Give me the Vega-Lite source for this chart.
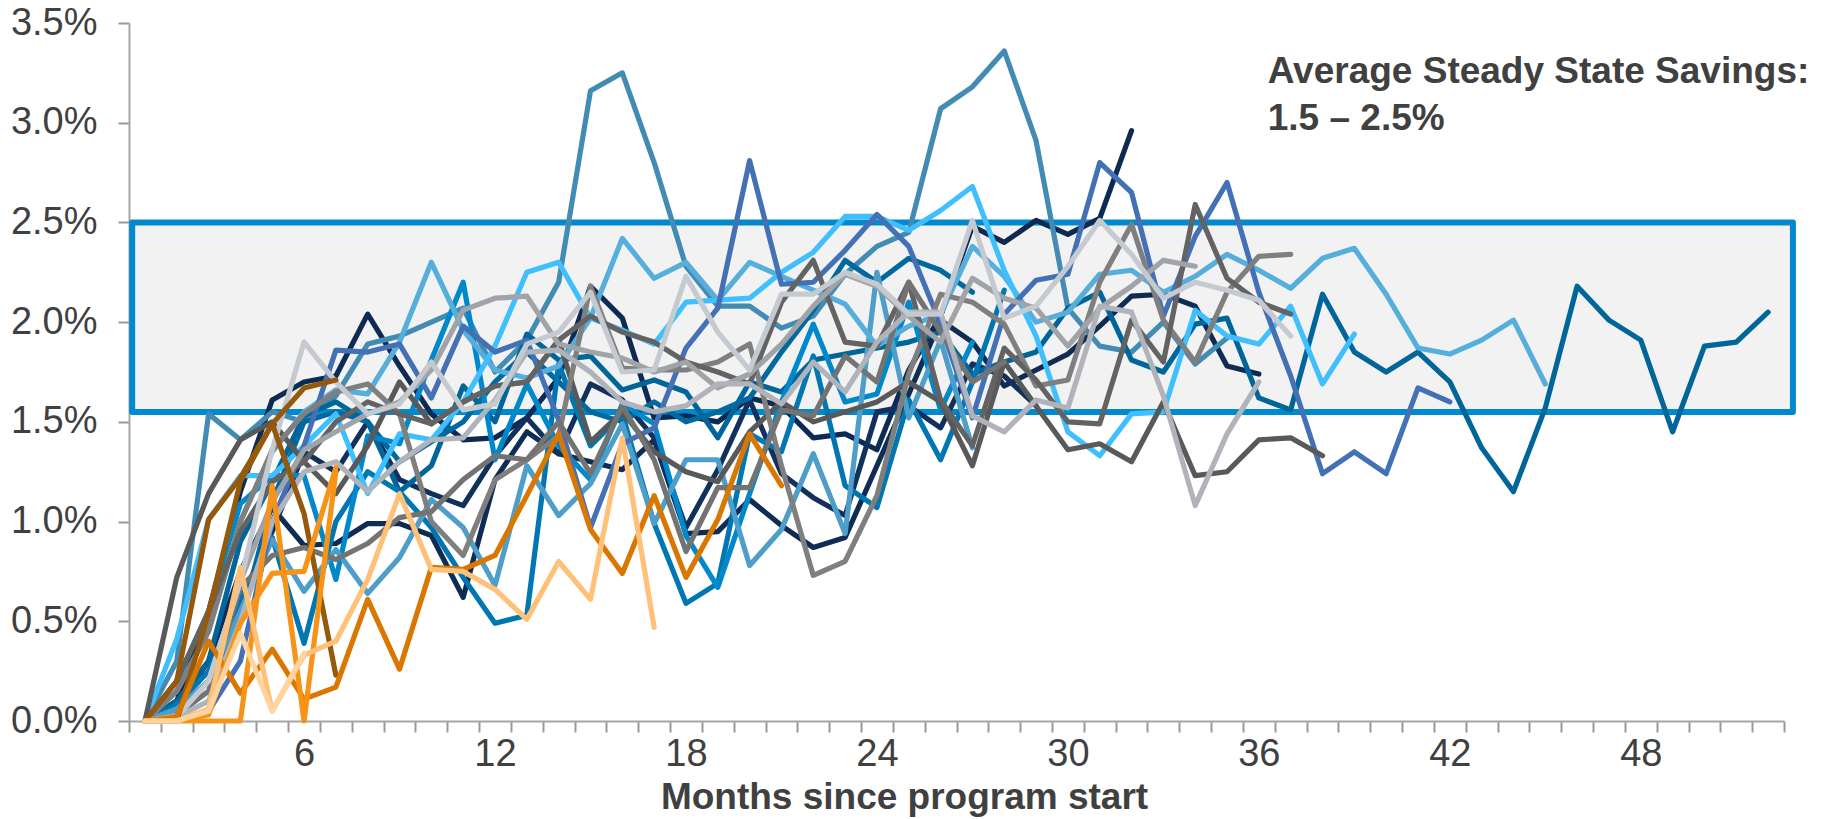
{"$schema":"https://vega.github.io/schema/vega-lite/v6.json","width":1655,"height":698,"autosize":{"type":"none"},"padding":{"left":129,"top":23,"right":44,"bottom":98},"background":"white","config":{"view":{"stroke":null},"font":"Liberation Sans"},"resolve":{"axis":{"x":"independent"}},"layer":[
{"data":{"values":[{"from":0.6,"to":52.78,"low":1.55,"high":2.5}]},"mark":{"type":"rect","fill":"#f2f2f2","stroke":"#0089cf","strokeWidth":6,"strokeJoin":"round","clip":false},
"encoding":{"x":{"field":"from","type":"quantitative","scale":{"domain":[0.5,52.5],"nice":false,"zero":false},"axis":{"orient":"bottom","values":[0.5,1.5,2.5,3.5,4.5,5.5,6.5,7.5,8.5,9.5,10.5,11.5,12.5,13.5,14.5,15.5,16.5,17.5,18.5,19.5,20.5,21.5,22.5,23.5,24.5,25.5,26.5,27.5,28.5,29.5,30.5,31.5,32.5,33.5,34.5,35.5,36.5,37.5,38.5,39.5,40.5,41.5,42.5,43.5,44.5,45.5,46.5,47.5,48.5,49.5,50.5,51.5,52.5],"labels":false,"title":null,"grid":false,"tickSize":11,"tickWidth":2,"tickColor":"#999999","domainColor":"#a6a6a6","domainWidth":2}},"x2":{"field":"to"},
"y":{"field":"low","type":"quantitative","scale":{"domain":[0,3.5],"nice":false},"axis":{"values":[0,0.5,1,1.5,2,2.5,3,3.5],"labelExpr":"format(datum.value,'.1f')+'%'","title":null,"grid":false,"tickSize":11,"tickWidth":2,"tickColor":"#999999","domainColor":"#a6a6a6","domainWidth":2,"labelFontSize":38,"labelColor":"#404040","labelPadding":21,"labelFont":"Liberation Sans"}},"y2":{"field":"high"}}},
{"data":{"values":[
{"id":"P01","m":1,"v":0},{"id":"P01","m":2,"v":0.1},{"id":"P01","m":3,"v":0.55},{"id":"P01","m":4,"v":1.15},{"id":"P01","m":5,"v":1.61},{"id":"P01","m":6,"v":1.7},{"id":"P01","m":7,"v":1.73},{"id":"P01","m":8,"v":2.04},{"id":"P01","m":9,"v":1.78},{"id":"P01","m":10,"v":1.54},{"id":"P01","m":11,"v":1.41},{"id":"P01","m":12,"v":1.42},{"id":"P01","m":13,"v":1.52},{"id":"P01","m":14,"v":1.72},{"id":"P01","m":15,"v":2.18},{"id":"P01","m":16,"v":2.02},{"id":"P01","m":17,"v":1.52},{"id":"P01","m":18,"v":1.53},{"id":"P01","m":19,"v":1.5},{"id":"P01","m":20,"v":1.62},{"id":"P01","m":21,"v":1.58},{"id":"P01","m":22,"v":1.42},{"id":"P01","m":23,"v":1.44},{"id":"P01","m":24,"v":1.36},{"id":"P01","m":25,"v":1.76},{"id":"P01","m":26,"v":2.03},{"id":"P01","m":27,"v":2.48},{"id":"P01","m":28,"v":2.4},{"id":"P01","m":29,"v":2.51},{"id":"P01","m":30,"v":2.44},{"id":"P01","m":31,"v":2.52},{"id":"P01","m":32,"v":2.96},
{"id":"P02","m":1,"v":0},{"id":"P02","m":2,"v":0.07},{"id":"P02","m":3,"v":0.3},{"id":"P02","m":4,"v":0.75},{"id":"P02","m":5,"v":1.07},{"id":"P02","m":6,"v":0.88},{"id":"P02","m":7,"v":0.89},{"id":"P02","m":8,"v":0.99},{"id":"P02","m":9,"v":0.99},{"id":"P02","m":10,"v":0.93},{"id":"P02","m":11,"v":0.62},{"id":"P02","m":12,"v":1.21},{"id":"P02","m":13,"v":1.45},{"id":"P02","m":14,"v":1.34},{"id":"P02","m":15,"v":1.3},{"id":"P02","m":16,"v":1.26},{"id":"P02","m":17,"v":1.41},{"id":"P02","m":18,"v":0.94},{"id":"P02","m":19,"v":0.95},{"id":"P02","m":20,"v":1.11},{"id":"P02","m":21,"v":0.98},{"id":"P02","m":22,"v":0.87},{"id":"P02","m":23,"v":0.92},{"id":"P02","m":24,"v":1.28},{"id":"P02","m":25,"v":1.64},{"id":"P02","m":26,"v":2.01},{"id":"P02","m":27,"v":1.9},{"id":"P02","m":28,"v":1.68},{"id":"P02","m":29,"v":1.76},{"id":"P02","m":30,"v":1.84},{"id":"P02","m":31,"v":1.98},{"id":"P02","m":32,"v":2.13},{"id":"P02","m":33,"v":2.14},{"id":"P02","m":34,"v":2.08},{"id":"P02","m":35,"v":1.78},{"id":"P02","m":36,"v":1.74},
{"id":"P03","m":1,"v":0},{"id":"P03","m":2,"v":0.05},{"id":"P03","m":3,"v":0.2},{"id":"P03","m":4,"v":0.6},{"id":"P03","m":5,"v":0.95},{"id":"P03","m":6,"v":1.35},{"id":"P03","m":7,"v":1.25},{"id":"P03","m":8,"v":1.5},{"id":"P03","m":9,"v":1.21},{"id":"P03","m":10,"v":1.14},{"id":"P03","m":11,"v":1.08},{"id":"P03","m":12,"v":1.33},{"id":"P03","m":13,"v":1.52},{"id":"P03","m":14,"v":1.34},{"id":"P03","m":15,"v":1.69},{"id":"P03","m":16,"v":1.61},{"id":"P03","m":17,"v":1.42},{"id":"P03","m":18,"v":0.97},{"id":"P03","m":19,"v":1.26},{"id":"P03","m":20,"v":1.61},{"id":"P03","m":21,"v":1.24},{"id":"P03","m":22,"v":1.12},{"id":"P03","m":23,"v":1.03},{"id":"P03","m":24,"v":1.55},{"id":"P03","m":25,"v":1.58},{"id":"P03","m":26,"v":1.47},{"id":"P03","m":27,"v":1.79},{"id":"P03","m":28,"v":1.73},{"id":"P03","m":29,"v":1.58},
{"id":"P04","m":1,"v":0},{"id":"P04","m":2,"v":0.3},{"id":"P04","m":3,"v":1.54},{"id":"P04","m":4,"v":1.41},{"id":"P04","m":5,"v":1.55},{"id":"P04","m":6,"v":1.5},{"id":"P04","m":7,"v":1.63},{"id":"P04","m":8,"v":1.89},{"id":"P04","m":9,"v":1.93},{"id":"P04","m":10,"v":2.0},{"id":"P04","m":11,"v":2.07},{"id":"P04","m":12,"v":1.75},{"id":"P04","m":13,"v":1.91},{"id":"P04","m":14,"v":2.2},{"id":"P04","m":15,"v":3.16},{"id":"P04","m":16,"v":3.25},{"id":"P04","m":17,"v":2.8},{"id":"P04","m":18,"v":2.28},{"id":"P04","m":19,"v":2.08},{"id":"P04","m":20,"v":2.08},{"id":"P04","m":21,"v":1.97},{"id":"P04","m":22,"v":2.03},{"id":"P04","m":23,"v":2.24},{"id":"P04","m":24,"v":2.38},{"id":"P04","m":25,"v":2.45},{"id":"P04","m":26,"v":3.07},{"id":"P04","m":27,"v":3.18},{"id":"P04","m":28,"v":3.36},{"id":"P04","m":29,"v":2.91},{"id":"P04","m":30,"v":2.07},{"id":"P04","m":31,"v":1.88},{"id":"P04","m":32,"v":1.85},{"id":"P04","m":33,"v":2.0},{"id":"P04","m":34,"v":1.79},{"id":"P04","m":35,"v":1.92},
{"id":"P05","m":1,"v":0},{"id":"P05","m":2,"v":0.1},{"id":"P05","m":3,"v":0.3},{"id":"P05","m":4,"v":0.9},{"id":"P05","m":5,"v":1.2},{"id":"P05","m":6,"v":1.53},{"id":"P05","m":7,"v":1.6},{"id":"P05","m":8,"v":1.5},{"id":"P05","m":9,"v":1.15},{"id":"P05","m":10,"v":1.28},{"id":"P05","m":11,"v":1.68},{"id":"P05","m":12,"v":1.5},{"id":"P05","m":13,"v":1.94},{"id":"P05","m":14,"v":1.81},{"id":"P05","m":15,"v":1.83},{"id":"P05","m":16,"v":1.66},{"id":"P05","m":17,"v":1.71},{"id":"P05","m":18,"v":1.65},{"id":"P05","m":19,"v":1.42},{"id":"P05","m":20,"v":1.7},{"id":"P05","m":21,"v":1.65},{"id":"P05","m":22,"v":1.81},{"id":"P05","m":23,"v":1.84},{"id":"P05","m":24,"v":1.87},{"id":"P05","m":25,"v":1.9},{"id":"P05","m":26,"v":1.95},{"id":"P05","m":27,"v":1.74},{"id":"P05","m":28,"v":1.8},{"id":"P05","m":29,"v":1.85},{"id":"P05","m":30,"v":2.07},{"id":"P05","m":31,"v":2.15},{"id":"P05","m":32,"v":1.81},{"id":"P05","m":33,"v":1.75},{"id":"P05","m":34,"v":1.99},{"id":"P05","m":35,"v":2.02},{"id":"P05","m":36,"v":1.62},{"id":"P05","m":37,"v":1.56},{"id":"P05","m":38,"v":2.14},{"id":"P05","m":39,"v":1.85},{"id":"P05","m":40,"v":1.75},{"id":"P05","m":41,"v":1.85},{"id":"P05","m":42,"v":1.7},{"id":"P05","m":43,"v":1.37},{"id":"P05","m":44,"v":1.15},{"id":"P05","m":45,"v":1.57},{"id":"P05","m":46,"v":2.18},{"id":"P05","m":47,"v":2.01},{"id":"P05","m":48,"v":1.91},{"id":"P05","m":49,"v":1.45},{"id":"P05","m":50,"v":1.88},{"id":"P05","m":51,"v":1.9},{"id":"P05","m":52,"v":2.05},
{"id":"P06","m":1,"v":0},{"id":"P06","m":2,"v":0.05},{"id":"P06","m":3,"v":0.2},{"id":"P06","m":4,"v":0.5},{"id":"P06","m":5,"v":1.1},{"id":"P06","m":6,"v":1.5},{"id":"P06","m":7,"v":1.55},{"id":"P06","m":8,"v":1.5},{"id":"P06","m":9,"v":1.3},{"id":"P06","m":10,"v":1.4},{"id":"P06","m":11,"v":1.5},{"id":"P06","m":12,"v":1.7},{"id":"P06","m":13,"v":1.85},{"id":"P06","m":14,"v":1.7},{"id":"P06","m":15,"v":1.55},{"id":"P06","m":16,"v":1.5},{"id":"P06","m":17,"v":1.6},{"id":"P06","m":18,"v":1.5},{"id":"P06","m":19,"v":1.55},{"id":"P06","m":20,"v":1.62},{"id":"P06","m":21,"v":1.85},{"id":"P06","m":22,"v":2.06},{"id":"P06","m":23,"v":2.31},{"id":"P06","m":24,"v":2.2},{"id":"P06","m":25,"v":2.32},{"id":"P06","m":26,"v":2.26},{"id":"P06","m":27,"v":2.15},
{"id":"P07","m":1,"v":0},{"id":"P07","m":2,"v":0.08},{"id":"P07","m":3,"v":0.25},{"id":"P07","m":4,"v":0.6},{"id":"P07","m":5,"v":0.92},{"id":"P07","m":6,"v":0.39},{"id":"P07","m":7,"v":1.0},{"id":"P07","m":8,"v":1.25},{"id":"P07","m":9,"v":1.15},{"id":"P07","m":10,"v":0.97},{"id":"P07","m":11,"v":0.72},{"id":"P07","m":12,"v":0.49},{"id":"P07","m":13,"v":0.53},{"id":"P07","m":14,"v":1.79},{"id":"P07","m":15,"v":1.38},{"id":"P07","m":16,"v":1.54},{"id":"P07","m":17,"v":0.99},{"id":"P07","m":18,"v":0.59},{"id":"P07","m":19,"v":0.69},{"id":"P07","m":20,"v":1.44},{"id":"P07","m":21,"v":1.35},{"id":"P07","m":22,"v":1.83},{"id":"P07","m":23,"v":1.18},{"id":"P07","m":24,"v":1.07},{"id":"P07","m":25,"v":1.61},{"id":"P07","m":26,"v":1.31},{"id":"P07","m":27,"v":1.7},{"id":"P07","m":28,"v":2.16},
{"id":"P08","m":1,"v":0},{"id":"P08","m":2,"v":0.2},{"id":"P08","m":3,"v":0.55},{"id":"P08","m":4,"v":1.09},{"id":"P08","m":5,"v":1.23},{"id":"P08","m":6,"v":1.23},{"id":"P08","m":7,"v":0.71},{"id":"P08","m":8,"v":1.43},{"id":"P08","m":9,"v":1.39},{"id":"P08","m":10,"v":1.81},{"id":"P08","m":11,"v":2.2},{"id":"P08","m":12,"v":1.31},{"id":"P08","m":13,"v":1.69},{"id":"P08","m":14,"v":1.38},{"id":"P08","m":15,"v":1.21},{"id":"P08","m":16,"v":1.59},{"id":"P08","m":17,"v":1.49},{"id":"P08","m":18,"v":0.93},{"id":"P08","m":19,"v":0.67},{"id":"P08","m":20,"v":1.14},{"id":"P08","m":21,"v":1.6},{"id":"P08","m":22,"v":1.99},{"id":"P08","m":23,"v":1.6},{"id":"P08","m":24,"v":1.64},{"id":"P08","m":25,"v":2.1},{"id":"P08","m":26,"v":1.56},{"id":"P08","m":27,"v":1.9},
{"id":"P09","m":1,"v":0},{"id":"P09","m":2,"v":0.06},{"id":"P09","m":3,"v":0.2},{"id":"P09","m":4,"v":0.55},{"id":"P09","m":5,"v":0.91},{"id":"P09","m":6,"v":0.65},{"id":"P09","m":7,"v":0.86},{"id":"P09","m":8,"v":0.64},{"id":"P09","m":9,"v":0.82},{"id":"P09","m":10,"v":1.11},{"id":"P09","m":11,"v":0.97},{"id":"P09","m":12,"v":0.68},{"id":"P09","m":13,"v":1.28},{"id":"P09","m":14,"v":1.03},{"id":"P09","m":15,"v":1.19},{"id":"P09","m":16,"v":1.49},{"id":"P09","m":17,"v":0.99},{"id":"P09","m":18,"v":1.31},{"id":"P09","m":19,"v":1.31},{"id":"P09","m":20,"v":0.78},{"id":"P09","m":21,"v":0.96},{"id":"P09","m":22,"v":1.34},{"id":"P09","m":23,"v":0.94},{"id":"P09","m":24,"v":2.25},{"id":"P09","m":25,"v":1.52},{"id":"P09","m":26,"v":1.91},{"id":"P09","m":27,"v":1.37},
{"id":"P10","m":1,"v":0},{"id":"P10","m":2,"v":0.15},{"id":"P10","m":3,"v":0.45},{"id":"P10","m":4,"v":1.0},{"id":"P10","m":5,"v":1.35},{"id":"P10","m":6,"v":1.55},{"id":"P10","m":7,"v":1.66},{"id":"P10","m":8,"v":1.64},{"id":"P10","m":9,"v":1.9},{"id":"P10","m":10,"v":2.3},{"id":"P10","m":11,"v":1.96},{"id":"P10","m":12,"v":1.76},{"id":"P10","m":13,"v":1.72},{"id":"P10","m":14,"v":1.78},{"id":"P10","m":15,"v":2.02},{"id":"P10","m":16,"v":2.42},{"id":"P10","m":17,"v":2.22},{"id":"P10","m":18,"v":2.3},{"id":"P10","m":19,"v":2.11},{"id":"P10","m":20,"v":2.3},{"id":"P10","m":21,"v":2.23},{"id":"P10","m":22,"v":2.16},{"id":"P10","m":23,"v":2.09},{"id":"P10","m":24,"v":1.88},{"id":"P10","m":25,"v":1.98},{"id":"P10","m":26,"v":2.04},{"id":"P10","m":27,"v":2.38},{"id":"P10","m":28,"v":2.23},{"id":"P10","m":29,"v":2.0},{"id":"P10","m":30,"v":2.05},{"id":"P10","m":31,"v":2.24},{"id":"P10","m":32,"v":2.26},{"id":"P10","m":33,"v":2.15},{"id":"P10","m":34,"v":2.23},{"id":"P10","m":35,"v":2.34},{"id":"P10","m":36,"v":2.26},{"id":"P10","m":37,"v":2.17},{"id":"P10","m":38,"v":2.32},{"id":"P10","m":39,"v":2.37},{"id":"P10","m":40,"v":2.14},{"id":"P10","m":41,"v":1.87},{"id":"P10","m":42,"v":1.84},{"id":"P10","m":43,"v":1.91},{"id":"P10","m":44,"v":2.01},{"id":"P10","m":45,"v":1.69},
{"id":"P11","m":1,"v":0},{"id":"P11","m":2,"v":0.41},{"id":"P11","m":3,"v":1.01},{"id":"P11","m":4,"v":1.23},{"id":"P11","m":5,"v":1.23},{"id":"P11","m":6,"v":1.38},{"id":"P11","m":7,"v":1.54},{"id":"P11","m":8,"v":1.14},{"id":"P11","m":9,"v":1.44},{"id":"P11","m":10,"v":1.41},{"id":"P11","m":11,"v":1.6},{"id":"P11","m":12,"v":1.88},{"id":"P11","m":13,"v":2.25},{"id":"P11","m":14,"v":2.3},{"id":"P11","m":15,"v":2.02},{"id":"P11","m":16,"v":1.96},{"id":"P11","m":17,"v":1.89},{"id":"P11","m":18,"v":2.1},{"id":"P11","m":19,"v":2.11},{"id":"P11","m":20,"v":2.12},{"id":"P11","m":21,"v":2.25},{"id":"P11","m":22,"v":2.35},{"id":"P11","m":23,"v":2.53},{"id":"P11","m":24,"v":2.53},{"id":"P11","m":25,"v":2.46},{"id":"P11","m":26,"v":2.56},{"id":"P11","m":27,"v":2.68},{"id":"P11","m":28,"v":2.26},{"id":"P11","m":29,"v":1.93},{"id":"P11","m":30,"v":1.45},{"id":"P11","m":31,"v":1.33},{"id":"P11","m":32,"v":1.54},{"id":"P11","m":33,"v":1.55},{"id":"P11","m":34,"v":2.06},{"id":"P11","m":35,"v":1.93},{"id":"P11","m":36,"v":1.89},{"id":"P11","m":37,"v":2.08},{"id":"P11","m":38,"v":1.69},{"id":"P11","m":39,"v":1.94},
{"id":"P12","m":1,"v":0},{"id":"P12","m":2,"v":0},{"id":"P12","m":3,"v":0.05},{"id":"P12","m":4,"v":0.3},{"id":"P12","m":5,"v":1.0},{"id":"P12","m":6,"v":1.38},{"id":"P12","m":7,"v":1.86},{"id":"P12","m":8,"v":1.85},{"id":"P12","m":9,"v":1.89},{"id":"P12","m":10,"v":1.62},{"id":"P12","m":11,"v":1.98},{"id":"P12","m":12,"v":1.85},{"id":"P12","m":13,"v":1.91},{"id":"P12","m":14,"v":1.51},{"id":"P12","m":15,"v":0.97},{"id":"P12","m":16,"v":1.39},{"id":"P12","m":17,"v":1.47},{"id":"P12","m":18,"v":1.87},{"id":"P12","m":19,"v":2.07},{"id":"P12","m":20,"v":2.81},{"id":"P12","m":21,"v":2.19},{"id":"P12","m":22,"v":2.2},{"id":"P12","m":23,"v":2.36},{"id":"P12","m":24,"v":2.54},{"id":"P12","m":25,"v":2.38},{"id":"P12","m":26,"v":1.99},{"id":"P12","m":27,"v":1.52},{"id":"P12","m":28,"v":2.04},{"id":"P12","m":29,"v":2.21},{"id":"P12","m":30,"v":2.24},{"id":"P12","m":31,"v":2.8},{"id":"P12","m":32,"v":2.65},{"id":"P12","m":33,"v":2.03},{"id":"P12","m":34,"v":2.43},{"id":"P12","m":35,"v":2.7},{"id":"P12","m":36,"v":2.15},{"id":"P12","m":37,"v":1.73},{"id":"P12","m":38,"v":1.24},{"id":"P12","m":39,"v":1.35},{"id":"P12","m":40,"v":1.24},{"id":"P12","m":41,"v":1.67},{"id":"P12","m":42,"v":1.6},
{"id":"P13","m":1,"v":0},{"id":"P13","m":2,"v":0.72},{"id":"P13","m":3,"v":1.14},{"id":"P13","m":4,"v":1.41},{"id":"P13","m":5,"v":1.5},{"id":"P13","m":6,"v":1.3},{"id":"P13","m":7,"v":1.14},{"id":"P13","m":8,"v":1.38},{"id":"P13","m":9,"v":1.7},{"id":"P13","m":10,"v":1.49},{"id":"P13","m":11,"v":1.6},{"id":"P13","m":12,"v":1.68},{"id":"P13","m":13,"v":1.7},{"id":"P13","m":14,"v":1.91},{"id":"P13","m":15,"v":1.4},{"id":"P13","m":16,"v":1.55},{"id":"P13","m":17,"v":1.35},{"id":"P13","m":18,"v":1.25},{"id":"P13","m":19,"v":1.2},{"id":"P13","m":20,"v":1.45},{"id":"P13","m":21,"v":1.6},{"id":"P13","m":22,"v":1.5},{"id":"P13","m":23,"v":1.55},{"id":"P13","m":24,"v":1.6},{"id":"P13","m":25,"v":1.7},{"id":"P13","m":26,"v":1.6},{"id":"P13","m":27,"v":1.28},{"id":"P13","m":28,"v":1.8},{"id":"P13","m":29,"v":1.58},{"id":"P13","m":30,"v":1.36},{"id":"P13","m":31,"v":1.39},{"id":"P13","m":32,"v":1.3},{"id":"P13","m":33,"v":1.6},{"id":"P13","m":34,"v":1.23},{"id":"P13","m":35,"v":1.25},{"id":"P13","m":36,"v":1.41},{"id":"P13","m":37,"v":1.42},{"id":"P13","m":38,"v":1.33},
{"id":"P14","m":1,"v":0},{"id":"P14","m":2,"v":0.15},{"id":"P14","m":3,"v":0.45},{"id":"P14","m":4,"v":1.0},{"id":"P14","m":5,"v":1.36},{"id":"P14","m":6,"v":1.54},{"id":"P14","m":7,"v":1.65},{"id":"P14","m":8,"v":1.69},{"id":"P14","m":9,"v":1.54},{"id":"P14","m":10,"v":1.0},{"id":"P14","m":11,"v":0.83},{"id":"P14","m":12,"v":1.21},{"id":"P14","m":13,"v":1.31},{"id":"P14","m":14,"v":1.43},{"id":"P14","m":15,"v":2.18},{"id":"P14","m":16,"v":1.77},{"id":"P14","m":17,"v":1.76},{"id":"P14","m":18,"v":1.76},{"id":"P14","m":19,"v":1.8},{"id":"P14","m":20,"v":1.89},{"id":"P14","m":21,"v":1.28},{"id":"P14","m":22,"v":0.73},{"id":"P14","m":23,"v":0.8},{"id":"P14","m":24,"v":1.13},{"id":"P14","m":25,"v":1.74},{"id":"P14","m":26,"v":2.14},{"id":"P14","m":27,"v":2.1},{"id":"P14","m":28,"v":1.99},{"id":"P14","m":29,"v":1.68},{"id":"P14","m":30,"v":1.71},{"id":"P14","m":31,"v":2.2},{"id":"P14","m":32,"v":2.49},{"id":"P14","m":33,"v":2.01},{"id":"P14","m":34,"v":1.8},{"id":"P14","m":35,"v":2.15},{"id":"P14","m":36,"v":2.33},{"id":"P14","m":37,"v":2.34},
{"id":"P15","m":1,"v":0},{"id":"P15","m":2,"v":0.2},{"id":"P15","m":3,"v":0.55},{"id":"P15","m":4,"v":0.95},{"id":"P15","m":5,"v":1.2},{"id":"P15","m":6,"v":1.3},{"id":"P15","m":7,"v":1.5},{"id":"P15","m":8,"v":1.6},{"id":"P15","m":9,"v":1.54},{"id":"P15","m":10,"v":1.49},{"id":"P15","m":11,"v":1.6},{"id":"P15","m":12,"v":1.68},{"id":"P15","m":13,"v":1.7},{"id":"P15","m":14,"v":1.91},{"id":"P15","m":15,"v":2.03},{"id":"P15","m":16,"v":1.95},{"id":"P15","m":17,"v":1.9},{"id":"P15","m":18,"v":1.8},{"id":"P15","m":19,"v":1.75},{"id":"P15","m":20,"v":1.69},{"id":"P15","m":21,"v":2.1},{"id":"P15","m":22,"v":2.31},{"id":"P15","m":23,"v":1.9},{"id":"P15","m":24,"v":1.88},{"id":"P15","m":25,"v":2.2},{"id":"P15","m":26,"v":1.61},{"id":"P15","m":27,"v":1.38},{"id":"P15","m":28,"v":1.87},{"id":"P15","m":29,"v":1.71},{"id":"P15","m":30,"v":1.5},{"id":"P15","m":31,"v":1.49},{"id":"P15","m":32,"v":2.01},{"id":"P15","m":33,"v":1.8},{"id":"P15","m":34,"v":2.59},{"id":"P15","m":35,"v":2.22},{"id":"P15","m":36,"v":2.1},{"id":"P15","m":37,"v":2.04},
{"id":"P16","m":1,"v":0},{"id":"P16","m":2,"v":0.03},{"id":"P16","m":3,"v":0.15},{"id":"P16","m":4,"v":0.67},{"id":"P16","m":5,"v":0.83},{"id":"P16","m":6,"v":0.87},{"id":"P16","m":7,"v":0.81},{"id":"P16","m":8,"v":0.89},{"id":"P16","m":9,"v":1.02},{"id":"P16","m":10,"v":1.05},{"id":"P16","m":11,"v":1.21},{"id":"P16","m":12,"v":1.33},{"id":"P16","m":13,"v":1.31},{"id":"P16","m":14,"v":1.5},{"id":"P16","m":15,"v":1.24},{"id":"P16","m":16,"v":1.58},{"id":"P16","m":17,"v":1.31},{"id":"P16","m":18,"v":0.85},{"id":"P16","m":19,"v":1.17},{"id":"P16","m":20,"v":1.17},{"id":"P16","m":21,"v":1.56},{"id":"P16","m":22,"v":1.53},{"id":"P16","m":23,"v":1.83},{"id":"P16","m":24,"v":1.7},{"id":"P16","m":25,"v":2.2},{"id":"P16","m":26,"v":1.95},{"id":"P16","m":27,"v":1.7},{"id":"P16","m":28,"v":1.8},
{"id":"P17","m":1,"v":0},{"id":"P17","m":2,"v":0.03},{"id":"P17","m":3,"v":0.2},{"id":"P17","m":4,"v":0.7},{"id":"P17","m":5,"v":1.1},{"id":"P17","m":6,"v":1.36},{"id":"P17","m":7,"v":1.45},{"id":"P17","m":8,"v":1.54},{"id":"P17","m":9,"v":1.6},{"id":"P17","m":10,"v":1.76},{"id":"P17","m":11,"v":2.06},{"id":"P17","m":12,"v":2.12},{"id":"P17","m":13,"v":2.13},{"id":"P17","m":14,"v":1.89},{"id":"P17","m":15,"v":1.85},{"id":"P17","m":16,"v":1.82},{"id":"P17","m":17,"v":1.75},{"id":"P17","m":18,"v":1.8},{"id":"P17","m":19,"v":1.67},{"id":"P17","m":20,"v":1.74},{"id":"P17","m":21,"v":1.89},{"id":"P17","m":22,"v":2.08},{"id":"P17","m":23,"v":2.24},{"id":"P17","m":24,"v":2.18},{"id":"P17","m":25,"v":2.03},{"id":"P17","m":26,"v":1.9},{"id":"P17","m":27,"v":2.22},{"id":"P17","m":28,"v":2.12},{"id":"P17","m":29,"v":2.07},{"id":"P17","m":30,"v":1.88},{"id":"P17","m":31,"v":2.07},{"id":"P17","m":32,"v":2.18},{"id":"P17","m":33,"v":2.31},{"id":"P17","m":34,"v":2.28},
{"id":"P18","m":1,"v":0},{"id":"P18","m":2,"v":0.02},{"id":"P18","m":3,"v":0.1},{"id":"P18","m":4,"v":0.5},{"id":"P18","m":5,"v":1.0},{"id":"P18","m":6,"v":1.25},{"id":"P18","m":7,"v":1.3},{"id":"P18","m":8,"v":1.15},{"id":"P18","m":9,"v":1.3},{"id":"P18","m":10,"v":1.41},{"id":"P18","m":11,"v":1.42},{"id":"P18","m":12,"v":1.61},{"id":"P18","m":13,"v":1.85},{"id":"P18","m":14,"v":1.86},{"id":"P18","m":15,"v":1.75},{"id":"P18","m":16,"v":1.6},{"id":"P18","m":17,"v":1.55},{"id":"P18","m":18,"v":1.58},{"id":"P18","m":19,"v":1.69},{"id":"P18","m":20,"v":1.69},{"id":"P18","m":21,"v":1.59},{"id":"P18","m":22,"v":1.8},{"id":"P18","m":23,"v":1.65},{"id":"P18","m":24,"v":1.9},{"id":"P18","m":25,"v":2.05},{"id":"P18","m":26,"v":2.05},{"id":"P18","m":27,"v":1.53},{"id":"P18","m":28,"v":1.45},{"id":"P18","m":29,"v":1.61},{"id":"P18","m":30,"v":1.57},{"id":"P18","m":31,"v":2.08},{"id":"P18","m":32,"v":2.05},{"id":"P18","m":33,"v":1.63},{"id":"P18","m":34,"v":1.08},{"id":"P18","m":35,"v":1.44},{"id":"P18","m":36,"v":1.7},
{"id":"P19","m":1,"v":0},{"id":"P19","m":2,"v":0.02},{"id":"P19","m":3,"v":0.2},{"id":"P19","m":4,"v":0.7},{"id":"P19","m":5,"v":1.36},{"id":"P19","m":6,"v":1.9},{"id":"P19","m":7,"v":1.7},{"id":"P19","m":8,"v":1.54},{"id":"P19","m":9,"v":1.59},{"id":"P19","m":10,"v":1.8},{"id":"P19","m":11,"v":1.56},{"id":"P19","m":12,"v":1.59},{"id":"P19","m":13,"v":1.89},{"id":"P19","m":14,"v":1.95},{"id":"P19","m":15,"v":2.15},{"id":"P19","m":16,"v":1.75},{"id":"P19","m":17,"v":1.76},{"id":"P19","m":18,"v":2.23},{"id":"P19","m":19,"v":1.95},{"id":"P19","m":20,"v":1.76},{"id":"P19","m":21,"v":2.14},{"id":"P19","m":22,"v":2.14},{"id":"P19","m":23,"v":2.25},{"id":"P19","m":24,"v":2.19},{"id":"P19","m":25,"v":2.04},{"id":"P19","m":26,"v":2.04},{"id":"P19","m":27,"v":2.51},{"id":"P19","m":28,"v":2.02},{"id":"P19","m":29,"v":2.08},{"id":"P19","m":30,"v":2.28},{"id":"P19","m":31,"v":2.51},{"id":"P19","m":32,"v":2.34},{"id":"P19","m":33,"v":2.12},{"id":"P19","m":34,"v":2.2},{"id":"P19","m":35,"v":2.16},{"id":"P19","m":36,"v":2.11},{"id":"P19","m":37,"v":1.93},
{"id":"P20","m":1,"v":0},{"id":"P20","m":2,"v":0.2},{"id":"P20","m":3,"v":1.01},{"id":"P20","m":4,"v":1.22},{"id":"P20","m":5,"v":1.49},{"id":"P20","m":6,"v":1.67},{"id":"P20","m":7,"v":1.71},
{"id":"P21","m":1,"v":0},{"id":"P21","m":2,"v":0},{"id":"P21","m":3,"v":0.54},{"id":"P21","m":4,"v":1.2},{"id":"P21","m":5,"v":1.49},{"id":"P21","m":6,"v":1.04},{"id":"P21","m":7,"v":0.23},
{"id":"P22","m":1,"v":0},{"id":"P22","m":2,"v":0.02},{"id":"P22","m":3,"v":0.4},{"id":"P22","m":4,"v":0.14},{"id":"P22","m":5,"v":0.36},{"id":"P22","m":6,"v":0.11},{"id":"P22","m":7,"v":0.17},{"id":"P22","m":8,"v":0.61},{"id":"P22","m":9,"v":0.26},{"id":"P22","m":10,"v":0.77},{"id":"P22","m":11,"v":0.76},{"id":"P22","m":12,"v":0.83},{"id":"P22","m":13,"v":1.13},{"id":"P22","m":14,"v":1.44},{"id":"P22","m":15,"v":0.96},{"id":"P22","m":16,"v":0.74},{"id":"P22","m":17,"v":1.13},{"id":"P22","m":18,"v":0.72},{"id":"P22","m":19,"v":1.01},{"id":"P22","m":20,"v":1.44},{"id":"P22","m":21,"v":1.18},
{"id":"P23","m":1,"v":0},{"id":"P23","m":2,"v":0},{"id":"P23","m":3,"v":0},{"id":"P23","m":4,"v":0},{"id":"P23","m":5,"v":1.18},{"id":"P23","m":6,"v":0},{"id":"P23","m":7,"v":1.25},
{"id":"P24","m":1,"v":0},{"id":"P24","m":2,"v":0},{"id":"P24","m":3,"v":0.03},{"id":"P24","m":4,"v":0.49},{"id":"P24","m":5,"v":0.74},{"id":"P24","m":6,"v":0.75},{"id":"P24","m":7,"v":1.27},
{"id":"P25","m":1,"v":0},{"id":"P25","m":2,"v":0},{"id":"P25","m":3,"v":0.06},{"id":"P25","m":4,"v":0.77},{"id":"P25","m":5,"v":0.05},{"id":"P25","m":6,"v":0.33},{"id":"P25","m":7,"v":0.4},{"id":"P25","m":8,"v":0.71},{"id":"P25","m":9,"v":1.14},{"id":"P25","m":10,"v":0.76},{"id":"P25","m":11,"v":0.75},{"id":"P25","m":12,"v":0.66},{"id":"P25","m":13,"v":0.51},{"id":"P25","m":14,"v":0.8},{"id":"P25","m":15,"v":0.61},{"id":"P25","m":16,"v":1.42},{"id":"P25","m":17,"v":0.47},
{"id":"P26","m":1,"v":0},{"id":"P26","m":2,"v":0},{"id":"P26","m":3,"v":0.05},{"id":"P26","m":4,"v":0.44},{"id":"P26","m":5,"v":0.05},{"id":"P26","m":6,"v":0.34}
]},"mark":{"type":"line","strokeCap":"round","strokeJoin":"round","clip":false},
"encoding":{"x":{"field":"m","type":"quantitative","scale":{"domain":[0.5,52.5],"nice":false,"zero":false},"axis":{"orient":"bottom","values":[6,12,18,24,30,36,42,48],"format":"d","tickSize":0,"domain":false,"grid":false,"labelFontSize":38,"labelColor":"#404040","labelPadding":14,"labelFlush":false,"labelFont":"Liberation Sans","title":"Months since program start","titleFont":"Liberation Sans","titleFontSize":37,"titleFontWeight":"bold","titleColor":"#404040","titlePadding":6,"titleAnchor":"middle","titleX":775}},
"y":{"field":"v","type":"quantitative","scale":{"domain":[0,3.5],"nice":false}},
"order":{"field":"m","type":"quantitative"},
"color":{"field":"id","type":"nominal","legend":null,"sort":null,"scale":{"domain":["P01","P02","P03","P04","P05","P06","P07","P08","P09","P10","P11","P12","P13","P14","P15","P16","P17","P18","P19","P20","P21","P22","P23","P24","P25","P26"],"range":["#0d2a52","#0f2c55","#12305c","#428cb4","#006699","#00699f","#0077b3","#0088cc","#4d9fca","#55aedc","#40bfff","#4470b5","#595959","#7f7f7f","#636363","#737373","#a0a4a9","#b0b4ba","#c5c9d0","#96580a","#96580a","#d97700","#f79418","#f79418","#ffc078","#ffd49f"]}},
"strokeWidth":{"field":"id","type":"nominal","legend":null,"sort":null,"scale":{"domain":["P01","P02","P03","P04","P05","P06","P07","P08","P09","P10","P11","P12","P13","P14","P15","P16","P17","P18","P19","P20","P21","P22","P23","P24","P25","P26"],"range":[5.2,5.2,5.2,5.2,5.2,5.2,5.2,5.2,5.2,5.2,5.2,5.2,5.2,5.2,5.2,5.2,6.5,5.2,5.2,6.5,6.5,6.5,6.5,7,6.5,6.5]}}}},
{"data":{"values":[{"m":36.28,"v":3.2,"label":"Average Steady State Savings:"},{"m":36.28,"v":2.965,"label":"1.5 – 2.5%"}]},"mark":{"type":"text","align":"left","baseline":"alphabetic","font":"Liberation Sans","fontWeight":"bold","fontSize":37,"color":"#404040"},
"encoding":{"x":{"field":"m","type":"quantitative","scale":{"domain":[0.5,52.5],"nice":false,"zero":false},"axis":null},"y":{"field":"v","type":"quantitative","scale":{"domain":[0,3.5],"nice":false}},"text":{"field":"label","type":"nominal"}}}
]}
